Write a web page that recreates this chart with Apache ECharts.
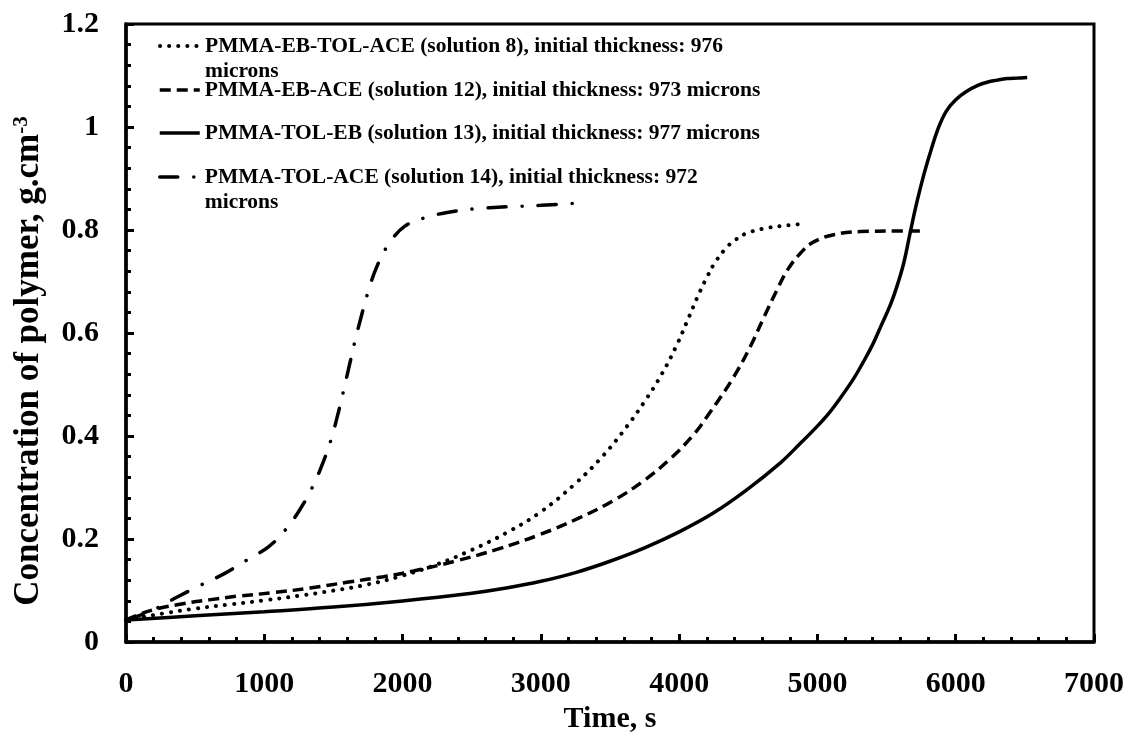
<!DOCTYPE html>
<html><head><meta charset="utf-8">
<script src="https://cdn.jsdelivr.net/npm/echarts@6/dist/echarts.min.js"></script>
<style>html,body{margin:0;padding:0;background:#fff}#c{width:1132px;height:739px}</style>
</head><body><div id="c"></div>
<script>
// ---- data (time s, concentration g/cm^3) ----
const seriesNames = [
  'PMMA-EB-TOL-ACE (solution 8), initial thickness: 976 microns',
  'PMMA-EB-ACE (solution 12), initial thickness: 973 microns',
  'PMMA-TOL-EB (solution 13), initial thickness: 977 microns',
  'PMMA-TOL-ACE (solution 14), initial thickness: 972 microns'
];
const sol8 = [[0,0.043],[150,0.050],[300,0.057],[500,0.065],[750,0.073],[1000,0.081],[1250,0.090],[1500,0.100],[1750,0.112],[2000,0.129],[2250,0.151],[2500,0.179],[2750,0.212],[3000,0.253],[3250,0.308],[3454,0.363],[3623,0.419],[3750,0.467],[3876,0.521],[3985,0.578],[4069,0.630],[4141,0.675],[4202,0.709],[4262,0.738],[4346,0.767],[4407,0.781],[4491,0.794],[4636,0.804],[4780,0.809],[4901,0.812]];
const sol12 = [[0,0.043],[100,0.054],[200,0.063],[400,0.074],[600,0.082],[800,0.089],[1066,0.096],[1331,0.105],[1597,0.116],[1862,0.127],[2079,0.138],[2393,0.158],[2682,0.180],[2996,0.209],[3285,0.242],[3526,0.275],[3743,0.313],[3936,0.356],[4105,0.403],[4226,0.447],[4395,0.515],[4515,0.574],[4612,0.630],[4708,0.684],[4780,0.721],[4877,0.755],[4973,0.777],[5118,0.791],[5311,0.797],[5552,0.798],[5745,0.798]];
const sol13 = [[0,0.043],[500,0.051],[1000,0.059],[1500,0.068],[2000,0.080],[2500,0.095],[2750,0.105],[3000,0.118],[3250,0.135],[3500,0.157],[3750,0.183],[4000,0.214],[4250,0.251],[4491,0.296],[4732,0.348],[4877,0.386],[4970,0.411],[5070,0.440],[5166,0.474],[5263,0.512],[5330,0.543],[5400,0.578],[5460,0.614],[5528,0.655],[5580,0.695],[5626,0.738],[5673,0.798],[5720,0.855],[5770,0.908],[5818,0.952],[5870,0.995],[5930,1.030],[6000,1.053],[6083,1.070],[6160,1.081],[6227,1.087],[6300,1.091],[6372,1.094],[6450,1.095],[6517,1.096]];
const sol14 = [[0,0.043],[100,0.052],[210,0.064],[367,0.087],[535,0.110],[704,0.132],[866,0.158],[1030,0.185],[1150,0.217],[1259,0.258],[1350,0.302],[1428,0.351],[1486,0.396],[1532,0.442],[1575,0.490],[1615,0.537],[1660,0.589],[1705,0.636],[1754,0.683],[1814,0.729],[1898,0.772],[2019,0.808],[2176,0.825],[2344,0.835],[2513,0.841],[2750,0.845],[3000,0.848],[3250,0.852]];
const legendLabels = [
  'PMMA-EB-TOL-ACE (solution 8), initial thickness: 976\nmicrons',
  'PMMA-EB-ACE (solution 12), initial thickness: 973 microns',
  'PMMA-TOL-EB (solution 13), initial thickness: 977 microns',
  'PMMA-TOL-ACE (solution 14), initial thickness: 972\nmicrons'
];
const seriesData = [sol8, sol12, sol13, sol14];

const FONT = '"Liberation Serif", "Times New Roman", serif';
const lineStyles = [
  {type:[0.1, 9], cap:'round', width:4},
  {type:[11, 6], cap:'butt', width:3.5},
  {type:'solid', width:3.5},
  {type:[18, 16, 0.1, 16], cap:'round', width:3.5}
];
const legendTops = [8.5, 77.5, 120.5, 139.5];

const chart = echarts.init(document.getElementById('c'), null, {renderer:'canvas'});
const legends = seriesNames.map((n, i) => ({
  data: [n],
  left: 158, top: legendTops[i],
  padding: 0, itemWidth: 40, itemHeight: 14, itemGap: 0,
  selectedMode: false,
  itemStyle: {opacity: 0},
  lineStyle: Object.assign({color: '#000'}, lineStyles[i]),
  formatter: () => legendLabels[i].indexOf('\n') >= 0 ? '\n' + legendLabels[i] : legendLabels[i],
  textStyle: {fontFamily: FONT, fontWeight: 'bold', fontSize: 21.5, lineHeight: 25, color: '#000'}
}));

const axisCommon = {
  axisLine: {show: true, lineStyle: {color: '#000', width: 3.5}},
  axisTick: {show: true, inside: true, length: 8, lineStyle: {color: '#000', width: 3}},
  minorTick: {show: true, splitNumber: 5, length: 5, lineStyle: {color: '#000', width: 3}},
  splitLine: {show: false},
  axisLabel: {fontFamily: FONT, fontWeight: 'bold', fontSize: 30, color: '#000'},
  nameTextStyle: {fontFamily: FONT, fontWeight: 'bold', fontSize: 30, color: '#000'}
};

chart.setOption({
  animation: false,
  backgroundColor: '#fff',
  legend: legends,
  grid: {left: 126, right: 38, top: 24, bottom: 96, show: true, borderColor: '#000', borderWidth: 3},
  xAxis: Object.assign({}, axisCommon, {
    type: 'value', min: 0, max: 7000, interval: 1000,
    name: 'Time, s', nameLocation: 'middle', nameGap: 61,
    axisLabel: Object.assign({}, axisCommon.axisLabel, {margin: 27, formatter: v => String(v)})
  }),
  yAxis: Object.assign({}, axisCommon, {
    type: 'value', min: 0, max: 1.2, interval: 0.2,
    name: '{a|Concentration of polymer, g.cm}{s|-3}', nameLocation: 'middle', nameGap: 80, nameRotate: 90,
    nameTextStyle: {fontFamily: FONT, fontWeight: 'bold', fontSize: 35, color: '#000', padding: [0, 56, 0, 0],
      rich: {a: {fontFamily: FONT, fontWeight: 'bold', fontSize: 35, color: '#000'},
             s: {fontFamily: FONT, fontWeight: 'bold', fontSize: 21, color: '#000', verticalAlign: 'top'}}},
    axisLabel: Object.assign({}, axisCommon.axisLabel, {margin: 27})
  }),
  series: seriesNames.map((n, i) => ({
    name: n, type: 'line', data: seriesData[i],
    showSymbol: false, symbol: 'none', smooth: 0.4,
    lineStyle: Object.assign({color: '#000'}, lineStyles[i]),
    itemStyle: {color: '#000'}
  }))
});
</script></body></html>
